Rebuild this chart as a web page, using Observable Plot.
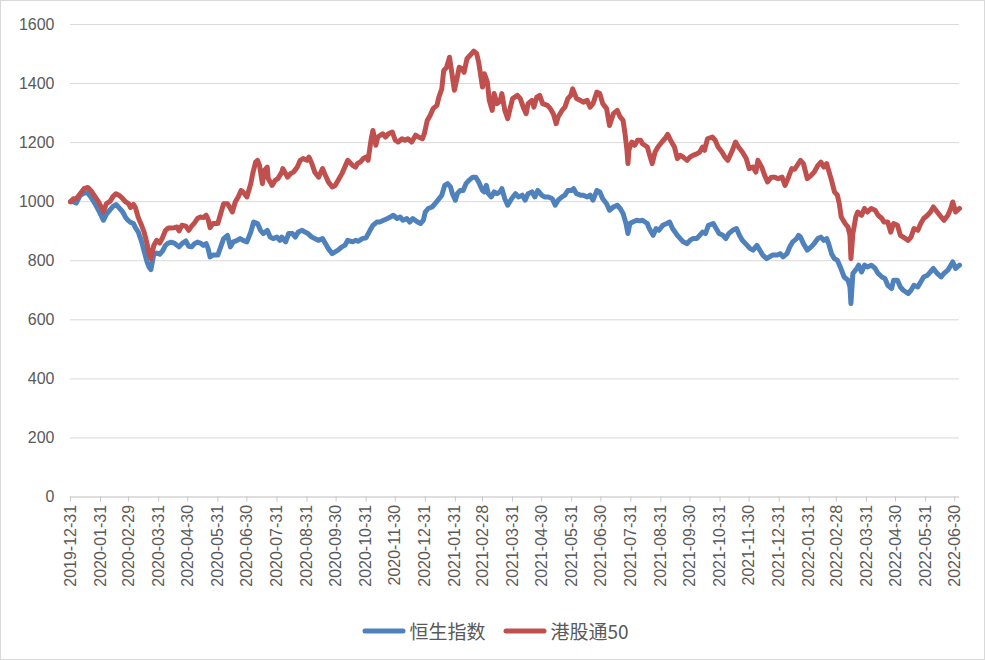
<!DOCTYPE html>
<html><head><meta charset="utf-8">
<script src="https://cdn.jsdelivr.net/npm/d3@7"></script>
<script src="https://cdn.jsdelivr.net/npm/@observablehq/plot@0.6"></script>
<style>
body{margin:0;background:#fff}
#wrap{position:relative;width:985px;height:660px;border:1px solid #d9d9d9;box-sizing:border-box;background:#fff;overflow:hidden}
#chart{position:absolute;left:-1px;top:-1px}
#legend{position:absolute;top:616px;left:2px;width:985px;display:flex;justify-content:center;align-items:center;font-family:"Noto Sans CJK SC","Noto Sans",sans-serif;font-size:19px;color:#595959}
.item{display:flex;align-items:center;margin:0 9px}
.item svg{margin-right:3px}
</style>
</head><body>
<div id="wrap"><div id="chart"></div><div id="legend"></div></div>
<script>
const seriesNames = ["恒生指数", "港股通50"];
const seriesColors = ["#4F81BD", "#C0504D"];
const yTicks = [0, 200, 400, 600, 800, 1000, 1200, 1400, 1600];
const tickLabels = ["2019-12-31","2020-01-31","2020-02-29","2020-03-31","2020-04-30","2020-05-31","2020-06-30","2020-07-31","2020-08-31","2020-09-30","2020-10-31","2020-11-30","2020-12-31","2021-01-31","2021-02-28","2021-03-31","2021-04-30","2021-05-31","2021-06-30","2021-07-31","2021-08-31","2021-09-30","2021-10-31","2021-11-30","2021-12-31","2022-01-31","2022-02-28","2022-03-31","2022-04-30","2022-05-31","2022-06-30"];

const hsiDates = ["2019-12-31","2020-01-03","2020-01-06","2020-01-10","2020-01-14","2020-01-18","2020-01-21","2020-01-25","2020-01-29","2020-02-01","2020-02-03","2020-02-06","2020-02-10","2020-02-13","2020-02-16","2020-02-19","2020-02-23","2020-02-26","2020-02-29","2020-03-02","2020-03-05","2020-03-07","2020-03-10","2020-03-13","2020-03-16","2020-03-19","2020-03-21","2020-03-23","2020-03-26","2020-03-29","2020-04-01","2020-04-04","2020-04-07","2020-04-10","2020-04-13","2020-04-16","2020-04-19","2020-04-21","2020-04-24","2020-04-28","2020-05-01","2020-05-04","2020-05-07","2020-05-10","2020-05-13","2020-05-16","2020-05-19","2020-05-21","2020-05-23","2020-05-26","2020-05-31","2020-06-03","2020-06-06","2020-06-10","2020-06-13","2020-06-16","2020-06-20","2020-06-23","2020-06-26","2020-06-30","2020-07-04","2020-07-07","2020-07-11","2020-07-14","2020-07-17","2020-07-21","2020-07-24","2020-07-27","2020-07-31","2020-08-03","2020-08-05","2020-08-09","2020-08-12","2020-08-16","2020-08-19","2020-08-22","2020-08-26","2020-08-29","2020-09-01","2020-09-05","2020-09-08","2020-09-12","2020-09-16","2020-09-19","2020-09-22","2020-09-26","2020-09-29","2020-10-02","2020-10-06","2020-10-09","2020-10-12","2020-10-17","2020-10-20","2020-10-23","2020-10-27","2020-10-31","2020-11-04","2020-11-07","2020-11-11","2020-11-14","2020-11-18","2020-11-22","2020-11-25","2020-11-28","2020-12-02","2020-12-05","2020-12-08","2020-12-12","2020-12-15","2020-12-18","2020-12-23","2020-12-26","2020-12-29","2020-12-31","2021-01-03","2021-01-07","2021-01-10","2021-01-13","2021-01-17","2021-01-20","2021-01-23","2021-01-26","2021-01-28","2021-01-31","2021-02-02","2021-02-05","2021-02-08","2021-02-11","2021-02-14","2021-02-18","2021-02-21","2021-02-24","2021-02-28","2021-03-02","2021-03-04","2021-03-06","2021-03-09","2021-03-12","2021-03-15","2021-03-18","2021-03-20","2021-03-23","2021-03-26","2021-03-30","2021-04-03","2021-04-06","2021-04-10","2021-04-13","2021-04-16","2021-04-20","2021-04-23","2021-04-26","2021-04-30","2021-05-03","2021-05-07","2021-05-11","2021-05-14","2021-05-17","2021-05-21","2021-05-24","2021-05-27","2021-05-31","2021-06-02","2021-06-05","2021-06-09","2021-06-12","2021-06-16","2021-06-19","2021-06-22","2021-06-26","2021-06-29","2021-07-02","2021-07-06","2021-07-09","2021-07-13","2021-07-17","2021-07-20","2021-07-23","2021-07-26","2021-07-28","2021-07-30","2021-08-02","2021-08-06","2021-08-09","2021-08-12","2021-08-17","2021-08-19","2021-08-23","2021-08-26","2021-08-29","2021-09-02","2021-09-06","2021-09-09","2021-09-12","2021-09-17","2021-09-20","2021-09-23","2021-09-27","2021-09-30","2021-10-03","2021-10-07","2021-10-10","2021-10-13","2021-10-16","2021-10-19","2021-10-24","2021-10-27","2021-10-30","2021-11-03","2021-11-06","2021-11-09","2021-11-13","2021-11-17","2021-11-20","2021-11-23","2021-11-28","2021-12-01","2021-12-04","2021-12-08","2021-12-11","2021-12-14","2021-12-18","2021-12-21","2021-12-24","2021-12-29","2022-01-01","2022-01-04","2022-01-08","2022-01-11","2022-01-14","2022-01-18","2022-01-20","2022-01-22","2022-01-25","2022-01-29","2022-02-02","2022-02-05","2022-02-09","2022-02-12","2022-02-15","2022-02-18","2022-02-20","2022-02-23","2022-02-26","2022-03-01","2022-03-04","2022-03-08","2022-03-12","2022-03-14","2022-03-15","2022-03-17","2022-03-21","2022-03-23","2022-03-26","2022-03-29","2022-04-01","2022-04-05","2022-04-09","2022-04-12","2022-04-16","2022-04-19","2022-04-22","2022-04-26","2022-04-28","2022-05-02","2022-05-05","2022-05-08","2022-05-13","2022-05-16","2022-05-19","2022-05-23","2022-05-26","2022-05-29","2022-06-02","2022-06-05","2022-06-08","2022-06-12","2022-06-16","2022-06-19","2022-06-23","2022-06-26","2022-06-28","2022-07-01","2022-07-05"];
const hsiValues = [1000,1000,995,1021,1029,1030,1016,995,971,951,937,957,973,984,990,980,965,946,935,930,926,912,897,869,833,796,779,770,822,826,822,833,852,860,863,860,852,847,858,867,849,847,858,863,860,852,858,841,813,819,819,847,875,886,847,864,869,875,869,864,897,931,926,903,892,903,880,875,880,869,880,864,892,892,880,897,903,897,892,880,875,869,875,858,841,824,830,836,847,852,869,864,869,866,875,878,903,920,931,931,937,943,948,954,943,948,937,943,931,943,931,926,937,965,977,982,993,1005,1022,1055,1061,1050,1027,1005,1027,1038,1038,1061,1072,1083,1083,1067,1038,1033,1055,1027,1016,1033,1027,1033,1044,1010,988,1010,1027,1016,1022,1005,1027,1033,1016,1038,1022,1016,1016,1010,988,1005,1016,1022,1038,1038,1044,1027,1022,1022,1016,1022,1005,1038,1033,1010,993,971,982,988,977,960,926,892,926,931,937,935,937,926,909,886,909,903,920,926,931,909,886,875,864,858,869,875,875,886,897,892,920,926,909,892,886,875,892,903,909,886,869,852,841,836,852,836,819,807,813,819,819,824,813,824,847,864,875,886,880,858,836,847,858,875,880,869,875,858,824,807,802,779,745,734,711,655,757,774,785,762,785,779,785,774,757,745,740,717,706,734,734,711,700,689,700,717,711,728,745,751,762,774,757,745,757,768,785,796,774,785];

const hk50Dates = ["2019-12-31","2020-01-03","2020-01-06","2020-01-10","2020-01-14","2020-01-18","2020-01-21","2020-01-25","2020-01-29","2020-02-01","2020-02-03","2020-02-06","2020-02-10","2020-02-13","2020-02-16","2020-02-19","2020-02-23","2020-02-26","2020-02-29","2020-03-02","2020-03-05","2020-03-07","2020-03-10","2020-03-13","2020-03-16","2020-03-19","2020-03-21","2020-03-23","2020-03-26","2020-03-29","2020-04-01","2020-04-04","2020-04-07","2020-04-10","2020-04-13","2020-04-16","2020-04-19","2020-04-21","2020-04-24","2020-04-28","2020-05-01","2020-05-04","2020-05-07","2020-05-10","2020-05-13","2020-05-16","2020-05-19","2020-05-21","2020-05-23","2020-05-26","2020-05-31","2020-06-03","2020-06-06","2020-06-10","2020-06-13","2020-06-15","2020-06-18","2020-06-21","2020-06-24","2020-06-26","2020-06-30","2020-07-04","2020-07-06","2020-07-09","2020-07-11","2020-07-13","2020-07-16","2020-07-18","2020-07-21","2020-07-22","2020-07-24","2020-07-26","2020-07-29","2020-08-01","2020-08-05","2020-08-06","2020-08-11","2020-08-14","2020-08-17","2020-08-21","2020-08-24","2020-08-27","2020-08-31","2020-09-02","2020-09-05","2020-09-08","2020-09-12","2020-09-16","2020-09-19","2020-09-22","2020-09-26","2020-09-29","2020-10-02","2020-10-06","2020-10-09","2020-10-12","2020-10-17","2020-10-20","2020-10-22","2020-10-25","2020-10-28","2020-10-31","2020-11-02","2020-11-05","2020-11-07","2020-11-10","2020-11-12","2020-11-17","2020-11-20","2020-11-23","2020-11-27","2020-11-30","2020-12-03","2020-12-07","2020-12-10","2020-12-13","2020-12-17","2020-12-21","2020-12-24","2020-12-28","2020-12-30","2021-01-02","2021-01-05","2021-01-08","2021-01-12","2021-01-14","2021-01-17","2021-01-19","2021-01-22","2021-01-25","2021-01-28","2021-01-30","2021-02-02","2021-02-04","2021-02-07","2021-02-09","2021-02-12","2021-02-15","2021-02-19","2021-02-22","2021-02-24","2021-02-28","2021-03-02","2021-03-05","2021-03-07","2021-03-10","2021-03-12","2021-03-15","2021-03-18","2021-03-20","2021-03-23","2021-03-26","2021-03-28","2021-03-31","2021-04-05","2021-04-08","2021-04-11","2021-04-14","2021-04-16","2021-04-20","2021-04-22","2021-04-25","2021-04-28","2021-05-01","2021-05-06","2021-05-09","2021-05-12","2021-05-15","2021-05-17","2021-05-21","2021-05-24","2021-05-27","2021-05-30","2021-06-01","2021-06-05","2021-06-09","2021-06-12","2021-06-16","2021-06-19","2021-06-22","2021-06-26","2021-06-29","2021-07-02","2021-07-06","2021-07-09","2021-07-13","2021-07-17","2021-07-20","2021-07-23","2021-07-25","2021-07-27","2021-07-28","2021-07-29","2021-08-01","2021-08-04","2021-08-07","2021-08-10","2021-08-12","2021-08-17","2021-08-19","2021-08-22","2021-08-25","2021-08-28","2021-09-01","2021-09-04","2021-09-07","2021-09-11","2021-09-14","2021-09-17","2021-09-20","2021-09-23","2021-09-27","2021-09-30","2021-10-03","2021-10-07","2021-10-10","2021-10-13","2021-10-15","2021-10-18","2021-10-23","2021-10-26","2021-10-29","2021-11-02","2021-11-05","2021-11-08","2021-11-12","2021-11-16","2021-11-19","2021-11-23","2021-11-27","2021-11-30","2021-12-04","2021-12-07","2021-12-09","2021-12-13","2021-12-16","2021-12-19","2021-12-23","2021-12-26","2021-12-30","2022-01-03","2022-01-06","2022-01-09","2022-01-13","2022-01-16","2022-01-19","2022-01-22","2022-01-25","2022-01-29","2022-02-02","2022-02-05","2022-02-09","2022-02-12","2022-02-15","2022-02-18","2022-02-20","2022-02-23","2022-02-26","2022-03-01","2022-03-03","2022-03-05","2022-03-09","2022-03-12","2022-03-14","2022-03-15","2022-03-17","2022-03-20","2022-03-22","2022-03-26","2022-03-29","2022-04-01","2022-04-05","2022-04-09","2022-04-12","2022-04-16","2022-04-18","2022-04-22","2022-04-25","2022-04-28","2022-05-02","2022-05-05","2022-05-08","2022-05-13","2022-05-16","2022-05-19","2022-05-23","2022-05-26","2022-05-29","2022-06-02","2022-06-05","2022-06-08","2022-06-12","2022-06-16","2022-06-19","2022-06-23","2022-06-26","2022-06-28","2022-07-01","2022-07-05"];
const hk50Values = [1000,1010,1010,1027,1044,1048,1038,1019,999,980,965,993,1002,1018,1027,1022,1010,999,993,980,991,980,946,923,897,858,824,807,852,869,860,878,903,911,911,912,914,901,920,917,903,917,928,943,948,946,954,940,912,926,926,960,993,993,977,965,999,1016,1038,1033,1016,1061,1095,1134,1140,1123,1061,1106,1117,1078,1067,1055,1072,1078,1100,1112,1083,1095,1100,1117,1140,1146,1140,1151,1129,1100,1083,1112,1089,1067,1050,1055,1072,1095,1117,1140,1123,1117,1129,1134,1146,1151,1140,1208,1241,1191,1219,1230,1219,1230,1236,1208,1202,1213,1208,1213,1202,1225,1219,1213,1230,1275,1292,1315,1326,1354,1382,1444,1455,1489,1422,1377,1422,1455,1450,1438,1484,1495,1510,1501,1473,1388,1433,1405,1343,1309,1366,1332,1340,1366,1309,1281,1309,1349,1360,1349,1320,1298,1332,1343,1320,1354,1360,1332,1326,1315,1298,1264,1287,1309,1320,1349,1360,1382,1349,1343,1337,1343,1320,1332,1371,1366,1332,1315,1258,1298,1309,1287,1275,1230,1174,1129,1174,1202,1191,1208,1208,1196,1185,1162,1129,1168,1185,1202,1213,1228,1202,1185,1146,1157,1151,1140,1151,1157,1162,1168,1185,1174,1213,1219,1208,1185,1168,1151,1140,1168,1202,1185,1168,1146,1112,1117,1100,1140,1117,1089,1067,1083,1083,1078,1083,1055,1078,1112,1110,1125,1140,1129,1078,1089,1100,1123,1134,1117,1129,1106,1072,1033,1022,993,948,926,914,886,807,892,948,965,954,977,965,977,971,954,943,931,931,897,926,920,886,880,869,880,909,903,926,943,954,965,982,965,948,937,954,977,999,965,977];

const hsi = hsiDates.map((d, i) => ({date: new Date(d), value: hsiValues[i]}));
const hk50 = hk50Dates.map((d, i) => ({date: new Date(d), value: hk50Values[i]}));
const ticks = tickLabels.map(d => new Date(d));
const fmt = d3.utcFormat("%Y-%m-%d");

const chart = Plot.plot({
  width: 985,
  height: 612,
  marginLeft: 70,
  marginRight: 25,
  marginTop: 24,
  marginBottom: 115,
  x: {type: "utc", domain: [new Date("2019-12-31"), new Date("2022-07-05")]},
  y: {domain: [0, 1600]},
  style: {fontFamily: "'Liberation Sans', Arial, sans-serif", fontSize: "16px", color: "#595959", background: "transparent"},
  marks: [
    Plot.gridY(yTicks, {stroke: "#d9d9d9", strokeOpacity: 1, strokeWidth: 1}),
    Plot.axisY(yTicks, {tickSize: 0, tickPadding: 16, tickFormat: d => String(d), fill: "#595959", fontSize: 16, label: null}),
    Plot.ruleY([0], {stroke: "#d0d0d0", strokeWidth: 1}),
    Plot.axisX(ticks, {tickRotate: -90, tickSize: 5, tickPadding: 3, tickFormat: fmt, stroke: "#c8c8c8", fill: "#595959", fontSize: 16, label: null}),
    Plot.line(hsi, {x: "date", y: "value", stroke: seriesColors[0], strokeWidth: 5, strokeLinejoin: "round", strokeLinecap: "round"}),
    Plot.line(hk50, {x: "date", y: "value", stroke: seriesColors[1], strokeWidth: 5, strokeLinejoin: "round", strokeLinecap: "round"})
  ]
});
document.getElementById("chart").appendChild(chart);

const legend = document.getElementById("legend");
seriesNames.forEach((name, i) => {
  const item = document.createElement("div");
  item.className = "item";
  item.innerHTML = `<svg width="44" height="10"><line x1="3" y1="5" x2="41" y2="5" stroke="${seriesColors[i]}" stroke-width="5" stroke-linecap="round"/></svg><span>${name}</span>`;
  legend.appendChild(item);
});
</script>
</body></html>
